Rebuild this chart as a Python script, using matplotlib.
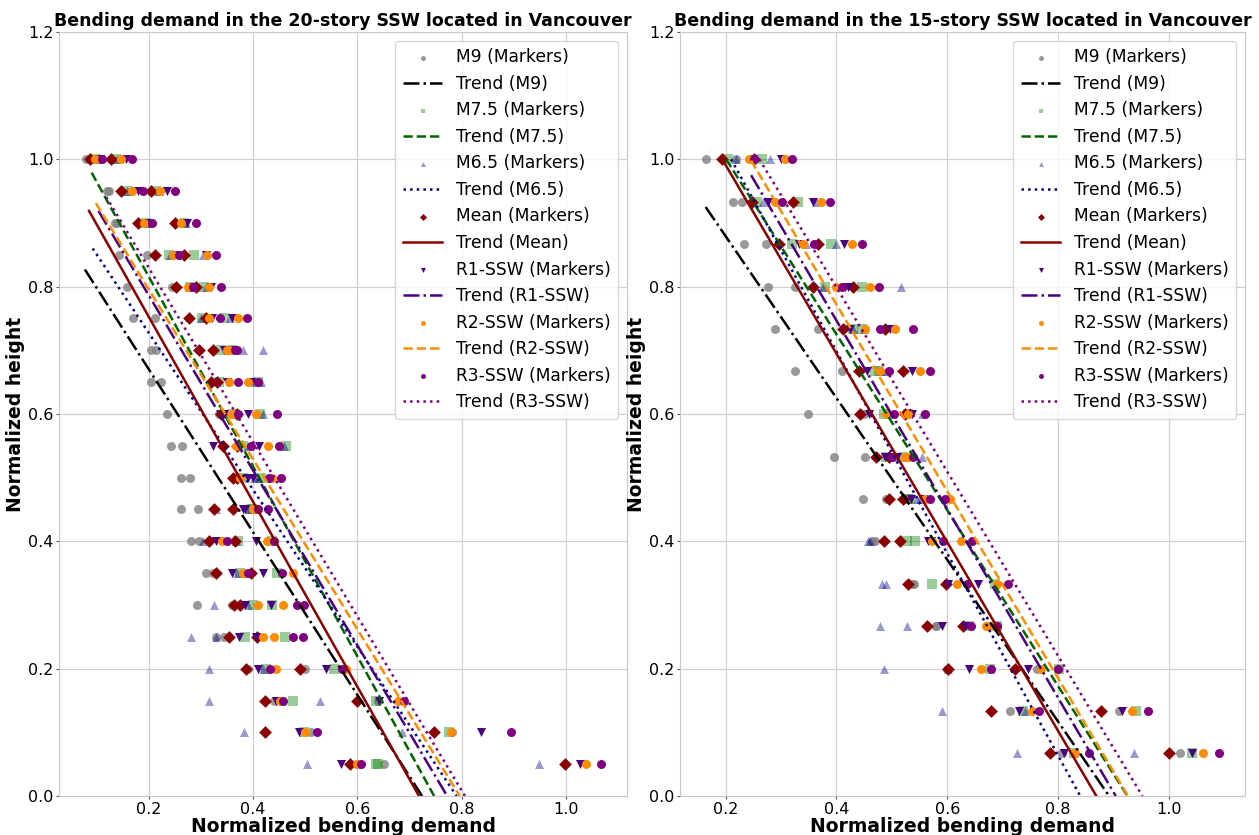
import matplotlib
matplotlib.use("Agg")
import matplotlib.pyplot as plt

# ---------------- data: 20-story wall ----------------
h20 = [1.00, 0.95, 0.90, 0.85, 0.80, 0.75, 0.70, 0.65, 0.60, 0.55,
       0.50, 0.45, 0.40, 0.35, 0.30, 0.25, 0.20, 0.15, 0.10, 0.05]

# two demand values per level for every record set
m9_20 = [(0.080, 0.086), (0.121, 0.125), (0.136, 0.140), (0.144, 0.197), (0.158, 0.245),
         (0.171, 0.212), (0.205, 0.214), (0.205, 0.224), (0.235, 0.335), (0.243, 0.265),
         (0.262, 0.280), (0.263, 0.294), (0.281, 0.296), (0.310, 0.323), (0.292, 0.360),
         (0.330, 0.345), (0.390, 0.499), (0.441, 0.640), (0.511, 0.782), (0.600, 0.651)]
m75_20 = [(0.100, 0.137), (0.160, 0.215), (0.196, 0.268), (0.239, 0.287), (0.280, 0.307),
          (0.303, 0.345), (0.338, 0.360), (0.335, 0.410), (0.360, 0.414), (0.380, 0.463),
          (0.380, 0.415), (0.396, 0.400), (0.372, 0.437), (0.375, 0.447), (0.400, 0.437),
          (0.385, 0.461), (0.425, 0.555), (0.476, 0.635), (0.497, 0.775), (0.635, 0.640)]
m65_20 = [(0.104, 0.140), (0.158, 0.220), (0.199, 0.272), (0.242, 0.305), (0.282, 0.310),
          (0.300, 0.356), (0.380, 0.420), (0.416, 0.405), (0.365, 0.420), (0.390, 0.460),
          (0.402, 0.410), (0.330, 0.390), (0.305, 0.368), (0.370, 0.385), (0.325, 0.390),
          (0.282, 0.330), (0.316, 0.420), (0.316, 0.528), (0.382, 0.686), (0.503, 0.948)]
mean_20 = [(0.088, 0.128), (0.147, 0.204), (0.179, 0.250), (0.213, 0.267), (0.252, 0.290),
           (0.278, 0.311), (0.297, 0.324), (0.319, 0.332), (0.338, 0.370), (0.342, 0.370),
           (0.361, 0.369), (0.326, 0.361), (0.316, 0.365), (0.330, 0.396), (0.363, 0.375),
           (0.354, 0.408), (0.386, 0.491), (0.423, 0.599), (0.423, 0.747), (0.586, 0.997)]
r1_20 = [(0.107, 0.157), (0.179, 0.235), (0.200, 0.274), (0.255, 0.310), (0.281, 0.320),
         (0.322, 0.360), (0.345, 0.361), (0.350, 0.396), (0.345, 0.391), (0.324, 0.412),
         (0.390, 0.400), (0.384, 0.380), (0.330, 0.405), (0.360, 0.420), (0.385, 0.435),
         (0.373, 0.405), (0.410, 0.539), (0.445, 0.641), (0.488, 0.836), (0.569, 1.027)]
r2_20 = [(0.098, 0.147), (0.169, 0.222), (0.191, 0.263), (0.246, 0.312), (0.275, 0.316),
         (0.315, 0.371), (0.350, 0.355), (0.355, 0.390), (0.360, 0.405), (0.367, 0.429),
         (0.375, 0.437), (0.409, 0.400), (0.340, 0.426), (0.380, 0.476), (0.410, 0.458),
         (0.420, 0.440), (0.444, 0.578), (0.452, 0.677), (0.500, 0.780), (0.600, 1.037)]
r3_20 = [(0.110, 0.168), (0.190, 0.250), (0.206, 0.291), (0.259, 0.329), (0.285, 0.338),
         (0.337, 0.388), (0.369, 0.365), (0.372, 0.409), (0.372, 0.447), (0.396, 0.450),
         (0.431, 0.453), (0.428, 0.410), (0.350, 0.440), (0.390, 0.455), (0.485, 0.497),
         (0.477, 0.495), (0.433, 0.570), (0.458, 0.689), (0.523, 0.895), (0.606, 1.067)]

# ---------------- data: 15-story wall ----------------
h15 = [1.000, 0.933, 0.867, 0.800, 0.733, 0.667, 0.600, 0.533,
       0.467, 0.400, 0.333, 0.267, 0.200, 0.133, 0.067]

m9_15 = [(0.164, 0.218), (0.213, 0.230), (0.233, 0.272), (0.276, 0.326), (0.290, 0.366),
         (0.325, 0.410), (0.348, 0.450), (0.396, 0.452), (0.448, 0.489), (0.465, 0.470),
         (0.536, 0.540), (0.579, 0.580), (0.600, 0.762), (0.714, 0.910), (0.807, 1.020)]
m75_15 = [(0.204, 0.266), (0.256, 0.330), (0.320, 0.390), (0.380, 0.446), (0.446, 0.430),
          (0.476, 0.470), (0.485, 0.530), (0.490, 0.520), (0.533, 0.530), (0.527, 0.542),
          (0.572, 0.686), (0.640, 0.690), (0.677, 0.801), (0.736, 0.940), (0.829, 1.041)]
m65_15 = [(0.218, 0.280), (0.267, 0.364), (0.345, 0.400), (0.375, 0.517), (0.430, 0.450),
          (0.480, 0.490), (0.500, 0.554), (0.500, 0.554), (0.545, 0.550), (0.457, 0.460),
          (0.483, 0.490), (0.478, 0.527), (0.485, 0.601), (0.591, 0.740), (0.726, 0.937)]
mean_15 = [(0.194, 0.252), (0.248, 0.322), (0.297, 0.366), (0.357, 0.430), (0.412, 0.487),
           (0.440, 0.521), (0.443, 0.524), (0.472, 0.495), (0.494, 0.521), (0.485, 0.515),
           (0.530, 0.598), (0.563, 0.629), (0.601, 0.723), (0.679, 0.877), (0.786, 1.001)]
r1_15 = [(0.250, 0.300), (0.276, 0.357), (0.333, 0.413), (0.416, 0.420), (0.425, 0.497),
         (0.455, 0.536), (0.458, 0.536), (0.487, 0.510), (0.535, 0.557), (0.566, 0.570),
         (0.602, 0.656), (0.590, 0.632), (0.639, 0.746), (0.730, 0.916), (0.811, 1.041)]
r2_15 = [(0.243, 0.308), (0.290, 0.372), (0.340, 0.428), (0.399, 0.460), (0.452, 0.506),
         (0.478, 0.551), (0.490, 0.530), (0.524, 0.530), (0.560, 0.605), (0.572, 0.625),
         (0.617, 0.690), (0.669, 0.675), (0.660, 0.770), (0.753, 0.934), (0.830, 1.061)]
r3_15 = [(0.252, 0.320), (0.302, 0.388), (0.360, 0.446), (0.410, 0.477), (0.479, 0.539),
         (0.494, 0.569), (0.503, 0.560), (0.500, 0.539), (0.569, 0.596), (0.593, 0.645),
         (0.635, 0.709), (0.643, 0.690), (0.679, 0.799), (0.765, 0.962), (0.856, 1.091)]

# trend lines: (x at start, y at start, x where height reaches 0)
trend_20 = {"M9": (0.078, 0.827, 0.724), "M7.5": (0.091, 0.979, 0.747),
            "M6.5": (0.093, 0.860, 0.790), "Mean": (0.086, 0.919, 0.718),
            "R1-SSW": (0.104, 0.919, 0.772), "R2-SSW": (0.099, 0.931, 0.796),
            "R3-SSW": (0.119, 0.941, 0.806)}
trend_15 = {"M9": (0.164, 0.925, 0.892), "M7.5": (0.201, 1.000, 0.925),
            "M6.5": (0.210, 1.000, 0.840), "Mean": (0.194, 1.000, 0.869),
            "R1-SSW": (0.246, 0.975, 0.904), "R2-SSW": (0.246, 0.998, 0.926),
            "R3-SSW": (0.261, 1.000, 0.952)}

names = ["M9", "M7.5", "M6.5", "Mean", "R1-SSW", "R2-SSW", "R3-SSW"]

# marker style / line style per set
mk_style = {
    "M9": dict(c="gray", marker="o", alpha=0.8),
    "M7.5": dict(c="green", marker="s", alpha=0.4),
    "M6.5": dict(c="darkblue", marker="^", alpha=0.4),
    "Mean": dict(c="darkred", marker="D", alpha=1.0),
    "R1-SSW": dict(c="indigo", marker="v", alpha=1.0),
    "R2-SSW": dict(c="darkorange", marker="o", alpha=1.0),
    "R3-SSW": dict(c="purple", marker="o", alpha=1.0),
}
ln_style = {
    "M9": dict(color="black", ls="-."),
    "M7.5": dict(color="darkgreen", ls="--"),
    "M6.5": dict(color="darkblue", ls=":"),
    "Mean": dict(color="darkred", ls="-"),
    "R1-SSW": dict(color="indigo", ls="-."),
    "R2-SSW": dict(color="darkorange", ls="--"),
    "R3-SSW": dict(color="purple", ls=":"),
}


def draw_panel(ax, heights, sets, trends, title):
    for name, pairs in zip(names, sets):
        xs = [p[i] for p in pairs for i in (0, 1)]
        ys = [h for h in heights for _ in (0, 1)]
        ax.scatter(xs, ys, s=42, linewidths=0, label=f"{name} (Markers)", **mk_style[name])
        x0, y0, x1 = trends[name]
        ax.plot([x0, x1], [y0, 0.0], lw=1.8, label=f"Trend ({name})", **ln_style[name])

    ax.set_ylim(0, 1.2)
    ax.set_title(title, fontsize=12.5, fontweight="bold", pad=4)
    ax.set_xlabel("Normalized bending demand", fontsize=13.5, fontweight="bold", labelpad=0)
    ax.set_ylabel("Normalized height", fontsize=13.5, fontweight="bold", labelpad=2)
    ax.grid(True, color="#d0d0d0", lw=0.9)
    ax.set_axisbelow(True)
    for sp in ax.spines.values():
        sp.set_color("#c8c8c8")
    ax.tick_params(labelsize=11.5, length=2, pad=2, color="#555555")
    ax.legend(loc="upper right", fontsize=12.3, markerscale=0.55, handlelength=2.3,
              borderpad=0.45, labelspacing=0.5)


fig = plt.figure(figsize=(12.59, 8.35), dpi=100)
ax1 = fig.add_axes([0.0469, 0.0467, 0.4511, 0.915])
ax2 = fig.add_axes([0.5401, 0.0467, 0.4488, 0.915])

draw_panel(ax1, h20, [m9_20, m75_20, m65_20, mean_20, r1_20, r2_20, r3_20], trend_20,
           "Bending demand in the 20-story SSW located in Vancouver")
draw_panel(ax2, h15, [m9_15, m75_15, m65_15, mean_15, r1_15, r2_15, r3_15], trend_15,
           "Bending demand in the 15-story SSW located in Vancouver")

fig.savefig("out.png", dpi=100)
